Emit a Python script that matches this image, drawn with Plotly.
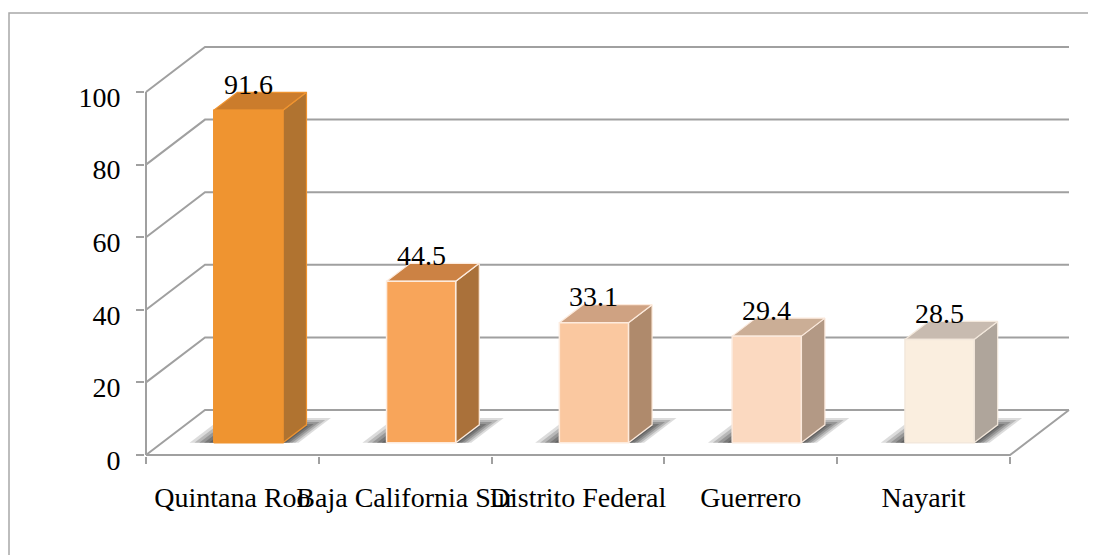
import plotly.graph_objects as go

# ---- data ----
categories = ["Quintana Roo", "Baja California Sur", "Distrito Federal", "Guerrero", "Nayarit"]
values = [91.6, 44.5, 33.1, 29.4, 28.5]
value_labels = ["91.6", "44.5", "33.1", "29.4", "28.5"]
y_ticks = [0, 20, 40, 60, 80, 100]

# ---- styles ----
front_colors = ["#EF9430", "#F8A55A", "#FAC8A0", "#FBD9C0", "#FAEEDF"]
top_colors = ["#CB7C2C", "#CC8244", "#CFA282", "#CBAE96", "#C8BBB0"]
side_colors = ["#B07330", "#AA713A", "#AF8A6C", "#B39985", "#AFA59B"]
edge_colors = ["#EF9430", "#FDEBDD", "#FDEBDD", "#FBE9DC", "#F3E8DC"]
GRID = "#A0A0A0"
FONT = "Liberation Serif"

# pixel scale of the layout (px per data unit)
PX_X = 172.8
PX_Y = 3.63
WALL_DX = 59 / PX_X   # depth offset of back wall in x units
WALL_DY = 45 / PX_Y   # depth offset of back wall in y units
F0, F1 = 0.27, 0.67   # bar front/back depth fractions
BAR_W = 0.4
n = len(categories)

fig = go.Figure()

def poly(xs, ys, fill, line_color=None, width=0, opacity=1.0):
    fig.add_trace(go.Scatter(
        x=list(xs) + [xs[0]], y=list(ys) + [ys[0]], mode="lines", fill="toself",
        fillcolor=fill, line=dict(color=line_color or fill, width=width),
        opacity=opacity, hoverinfo="skip", showlegend=False))

def seg(xs, ys):
    fig.add_trace(go.Scatter(x=xs, y=ys, mode="lines", line=dict(color=GRID, width=2),
                             hoverinfo="skip", showlegend=False))

# gridlines: back wall + side wall
x_end = n + WALL_DX
for t in y_ticks:
    seg([0, WALL_DX, x_end], [t, t + WALL_DY, t + WALL_DY])
# left axis line (front)
seg([0, 0], [0, y_ticks[-1]])
# floor front and right edge
seg([0, n, n + WALL_DX], [0, 0, WALL_DY])

# shadows + bars
for i, v in enumerate(values):
    x0 = i + 0.5 - BAR_W / 2 + F0 * WALL_DX
    x1 = x0 + BAR_W
    y0 = F0 * WALL_DY
    y1 = v + y0
    ddx = (F1 - F0) * WALL_DX
    ddy = (F1 - F0) * WALL_DY
    # soft shadow on floor
    for grow, op in [(1.0, 0.18), (0.8, 0.22), (0.6, 0.27), (0.4, 0.32), (0.2, 0.38)]:
        sdx = 0.55 * WALL_DX * (0.6 + 0.4 * grow)
        sdy = 0.55 * WALL_DY * (0.6 + 0.4 * grow)
        lx = x0 - 0.14 * grow
        rx = x1 + 0.09 * grow
        poly([lx, rx, rx + sdx, lx + sdx], [y0, y0, y0 + sdy, y0 + sdy],
             "rgba(60,60,60,1)", opacity=op)
    # side face
    poly([x1, x1 + ddx, x1 + ddx, x1], [y0, y0 + ddy, y1 + ddy, y1],
         side_colors[i], edge_colors[i], 1.2)
    # top face
    poly([x0, x1, x1 + ddx, x0 + ddx], [y1, y1, y1 + ddy, y1 + ddy],
         top_colors[i], edge_colors[i], 1.2)
    # front face
    poly([x0, x1, x1, x0], [y0, y0, y1, y1], front_colors[i], edge_colors[i], 1.5)
    # value label
    fig.add_annotation(x=i + 0.5 + F0 * WALL_DX, y=y1, text=value_labels[i],
                       showarrow=False, yanchor="middle", yshift=26,
                       font=dict(family=FONT, size=28, color="black"))

# page body has an 8px margin, so the figure is sized to fit the window
W, H = 1088, 547
ml, mt, pw, ph = 137, 22, 931, 426
mr, mb = W - ml - pw, H - mt - ph

fig.update_layout(
    width=W, height=H,
    margin=dict(l=ml, r=mr, t=mt, b=mb),
    paper_bgcolor="white", plot_bgcolor="white",
    showlegend=False,
    xaxis=dict(
        range=[-1 / PX_X, (pw - 1) / PX_X],
        tickmode="array", tickvals=[i + 0.5 for i in range(n)], ticktext=categories,
        ticks="", tickangle=0, showgrid=False, zeroline=False, showline=False,
        tickfont=dict(family=FONT, size=28, color="black"),
        ticklabelstandoff=22,
        minor=dict(tickmode="array", tickvals=list(range(n + 1)), ticks="outside",
                   ticklen=7, tickwidth=2, tickcolor=GRID, showgrid=False),
        fixedrange=True,
    ),
    yaxis=dict(
        range=[-1 / PX_Y, (ph - 1) / PX_Y],
        tickmode="array", tickvals=y_ticks, ticktext=[str(t) for t in y_ticks],
        ticks="outside", ticklen=8, tickwidth=2, tickcolor=GRID,
        showgrid=False, zeroline=False, showline=False,
        tickfont=dict(family=FONT, size=28, color="black"),
        ticklabelstandoff=10, ticklabelshift=5,
        fixedrange=True,
    ),
    shapes=[dict(type="rect", xref="paper", yref="paper",
                 x0=(1 - ml) / pw, x1=1.2, y0=-0.5, y1=(ph - (13 - 8 - mt)) / ph,
                 line=dict(color="#A8A8A8", width=1.5), layer="below")],
)

fig.write_html("out.html")
